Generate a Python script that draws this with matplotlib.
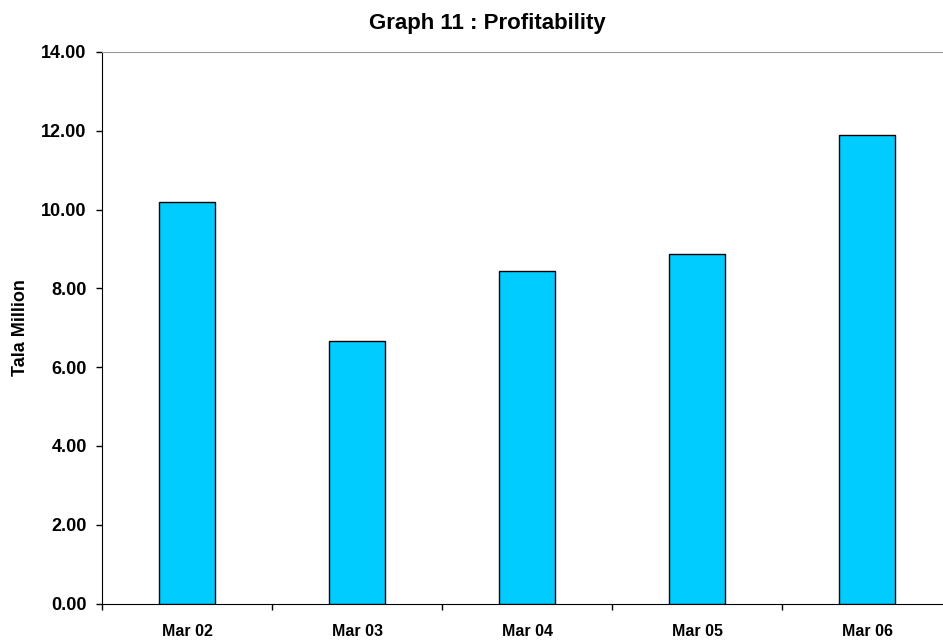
import matplotlib
matplotlib.use('Agg')
import matplotlib.pyplot as plt
import numpy as np

plt.rcParams['font.family'] = ['Liberation Sans', 'DejaVu Sans']
plt.rcParams['font.weight'] = 'bold'

years = ['Mar 02', 'Mar 03', 'Mar 04', 'Mar 05', 'Mar 06']
profit = [10.20, 6.67, 8.43, 8.88, 11.89]
y_ticks = [0, 2, 4, 6, 8, 10, 12, 14]

fig = plt.figure(figsize=(9.43, 6.41), dpi=100)
# plot area runs past the right edge of the canvas
ax = fig.add_axes([102 / 943, 1 - 603.5 / 641, 850 / 943, 551.5 / 641])

x = np.arange(len(years))
ax.bar(x, profit, width=0.335, color='#00CCFF', edgecolor='black', linewidth=1.0, zorder=3)

ax.set_xlim(-0.5, len(years) - 0.5)
ax.set_ylim(0, 14)

ax.set_yticks(y_ticks)
ax.set_yticklabels(['%.2f' % v for v in y_ticks], fontsize=13, fontweight='bold')
ax.tick_params(axis='y', direction='out', length=4.5, width=1, pad=6.5)

# labels at centres, tick marks between categories
ax.set_xticks(x)
ax.set_xticklabels(years, fontsize=11.5, fontweight='bold')
ax.tick_params(axis='x', which='major', length=0, pad=15)
ax.set_xticks(np.arange(-0.5, len(years) + 0.5, 1), minor=True)
ax.tick_params(axis='x', which='minor', direction='out', length=4.5, width=1)

ax.spines['left'].set_color('black')
ax.spines['bottom'].set_color('black')
ax.spines['top'].set_color('#999999')
ax.spines['right'].set_visible(False)

ax.set_ylabel('Tala Million', fontsize=13, fontweight='bold')
ax.yaxis.set_label_coords((29 - 102) / 850, 0.5)
fig.text(487 / 943, 1 - 23 / 641, 'Graph 11 : Profitability', ha='center', va='center',
         fontsize=16, fontweight='bold')

fig.savefig('out.png', dpi=100)
